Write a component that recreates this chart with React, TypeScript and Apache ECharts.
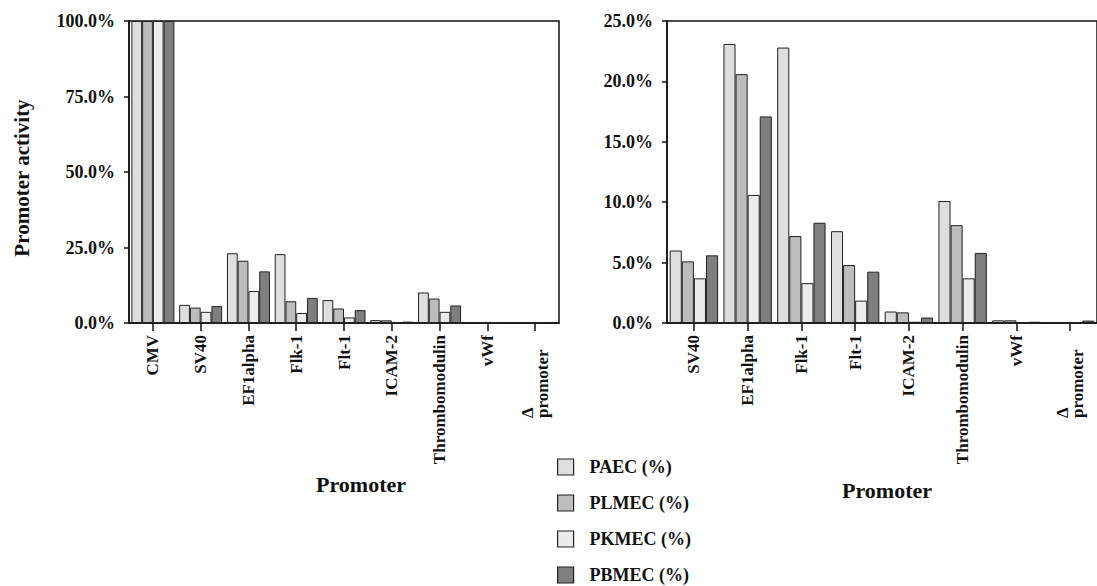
import React, { useEffect, useRef } from "react";
import * as echarts from "echarts";

const categoriesLeft = ["CMV", "SV40", "EF1alpha", "Flk-1", "Flt-1", "ICAM-2", "Thrombomodulin", "vWf", "Δ\npromoter"];
const categoriesRight = ["SV40", "EF1alpha", "Flk-1", "Flt-1", "ICAM-2", "Thrombomodulin", "vWf", "Δ\npromoter"];

const seriesNames = ["PAEC (%)", "PLMEC (%)", "PKMEC (%)", "PBMEC (%)"];
const paec = [100, 6.0, 23.1, 22.8, 7.6, 0.95, 10.1, 0.22, 0.05];
const plmec = [100, 5.1, 20.6, 7.2, 4.8, 0.88, 8.1, 0.22, 0.05];
const pkmec = [100, 3.7, 10.6, 3.3, 1.85, 0.1, 3.7, 0, 0];
const pbmec = [100, 5.6, 17.1, 8.3, 4.25, 0.45, 5.8, 0.1, 0.2];

const leftTicks = [0, 25, 50, 75, 100];
const rightTicks = [0, 5, 10, 15, 20, 25];

const colors = ["#dedede", "#bdbdbd", "#ebebeb", "#7f7f7f"];
const FONT = "'Liberation Serif', 'Times New Roman', serif";

export default function App() {
  const ref = useRef<HTMLDivElement>(null);
  useEffect(() => {
    if (!ref.current) return;
    const chart = echarts.init(ref.current, undefined, { renderer: "svg" });
    const allData = [paec, plmec, pkmec, pbmec];

    const catLabel = {
      rotate: 90,
      interval: 0,
      margin: 12,
      color: "#111",
      fontFamily: FONT,
      fontWeight: "bold",
      fontSize: 17,
      formatter: (v: string) => (v.indexOf("\n") >= 0 ? "{d|" + v.split("\n")[0] + "}\n{p|" + v.split("\n")[1] + "}" : v),
      rich: {
        d: { width: 83, align: "left", fontFamily: FONT, fontWeight: "bold", fontSize: 17, color: "#111", lineHeight: 15 },
        p: { width: 83, align: "left", fontFamily: FONT, fontWeight: "bold", fontSize: 17, color: "#111", lineHeight: 15 },
      },
    };
    const axisLine = { show: true, lineStyle: { color: "#111", width: 1.5 } };

    const mkY = (idx: number, max: number, interval: number) => ({
      type: "value",
      gridIndex: idx,
      min: 0,
      max,
      interval,
      axisLine,
      axisTick: { show: true, length: 5, lineStyle: { color: "#111", width: 1.5 } },
      splitLine: { show: false },
      axisLabel: {
        margin: 14,
        color: "#111",
        fontFamily: FONT,
        fontWeight: "bold",
        fontSize: 18,
        formatter: (v: number) => v.toFixed(1) + "%",
      },
    });

    const series: any[] = [];
    [0, 1].forEach((g) => {
      seriesNames.forEach((name, i) => {
        series.push({
          type: "bar",
          name,
          xAxisIndex: g,
          yAxisIndex: g,
          data: g === 0 ? allData[i] : allData[i].slice(1),
          barGap: "0%",
          barCategoryGap: "10%",
          itemStyle: { color: colors[i], borderColor: "#222", borderWidth: 1 },
        });
      });
    });

    chart.setOption({
      animation: false,
      grid: [
        { left: 129, top: 21, width: 430, height: 302, show: true, borderColor: "#111", borderWidth: 1.5 },
        { left: 667, top: 21, width: 432, height: 302, show: true, borderColor: "#111", borderWidth: 1.5 },
      ],
      xAxis: [
        {
          type: "category",
          gridIndex: 0,
          data: categoriesLeft,
          axisLine,
          axisTick: { show: true, alignWithLabel: true, length: 8, lineStyle: { color: "#111", width: 1.5 } },
          axisLabel: catLabel,
        },
        {
          type: "category",
          gridIndex: 1,
          data: categoriesRight,
          axisLine,
          axisTick: { show: true, alignWithLabel: true, length: 8, lineStyle: { color: "#111", width: 1.5 } },
          axisLabel: catLabel,
        },
      ],
      yAxis: [mkY(0, leftTicks[leftTicks.length - 1], leftTicks[1]), mkY(1, rightTicks[rightTicks.length - 1], rightTicks[1])],
      legend: {
        orient: "vertical",
        left: 557,
        top: 458,
        height: 128,
        padding: 0,
        data: seriesNames,
        icon: "rect",
        itemWidth: 16,
        itemHeight: 16,
        itemGap: 18,
        textStyle: { fontFamily: FONT, fontWeight: "bold", fontSize: 18, color: "#111", padding: [0, 0, 0, 11] },
        itemStyle: { borderColor: "#222", borderWidth: 1.2 },
      },
      graphic: [
        {
          type: "text",
          x: 22,
          y: 178,
          rotation: Math.PI / 2,
          style: { text: "Promoter activity", font: "bold 21px " + FONT, fill: "#111", align: "center", verticalAlign: "middle" },
        },
        {
          type: "text",
          x: 361,
          y: 484,
          style: { text: "Promoter", font: "bold 22px " + FONT, fill: "#111", align: "center", verticalAlign: "middle" },
        },
        {
          type: "text",
          x: 887,
          y: 490,
          style: { text: "Promoter", font: "bold 22px " + FONT, fill: "#111", align: "center", verticalAlign: "middle" },
        },
      ],
      series,
    });
    return () => chart.dispose();
  }, []);
  return <div ref={ref} style={{ position: "absolute", left: 0, top: 0, width: 1097, height: 586 }} />;
}
